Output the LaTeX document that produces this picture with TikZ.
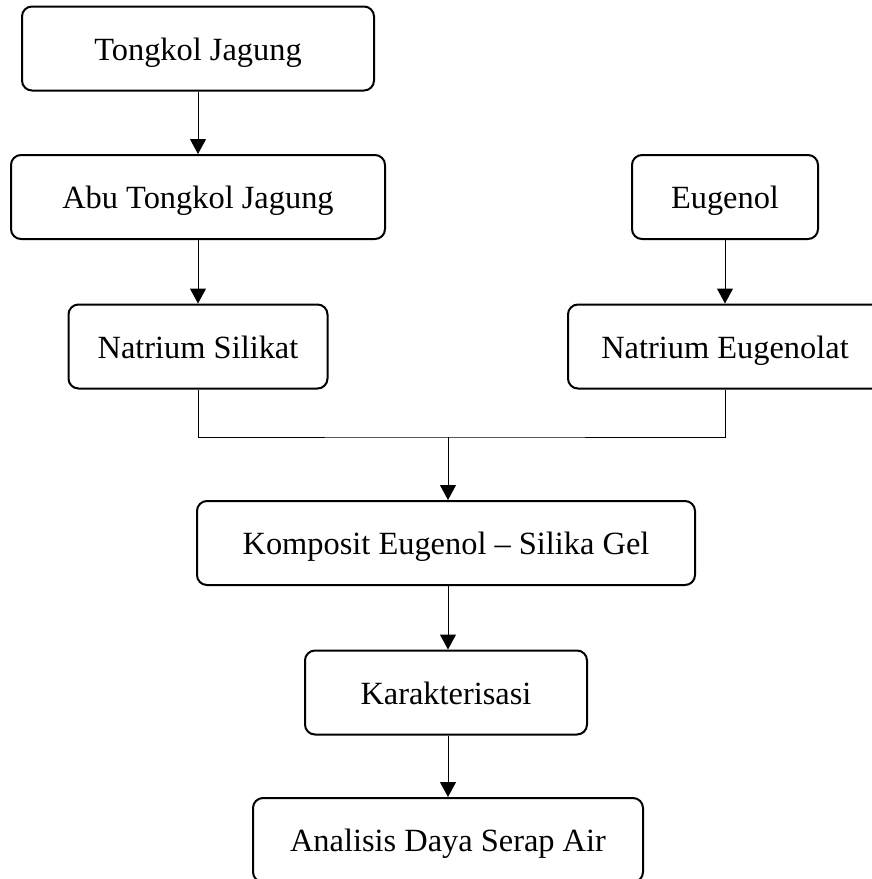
\documentclass[tikz,border=0pt]{standalone}
\usepackage{fontspec}
\setmainfont{Liberation Serif}
\usepackage{tikz}
\usetikzlibrary{arrows.meta}
\tikzstyle{stage}=[draw,rounded corners=5pt,line width=1pt,minimum height=42pt,inner sep=0pt,text height=11.5pt,text depth=0pt,font=\fontsize{16.2}{19}\selectfont]
\tikzstyle{flow}=[line width=0.5pt,-{Triangle[length=7.5pt,width=8pt]}]

\begin{document}
\begin{tikzpicture}[x=0.5pt,y=-0.5pt]
\useasboundingbox (0,0) rectangle (872,879);
\node[stage,minimum width=176pt] at (198, 48.5) (tj) {Tongkol Jagung};
\node[stage,minimum width=187pt] at (198, 197) (atj) {Abu Tongkol Jagung};
\node[stage,minimum width=93pt] at (725, 197) (eu) {Eugenol};
\node[stage,minimum width=129.5pt] at (198, 346.5) (ns) {Natrium Silikat};
\node[stage,minimum width=157pt] at (725, 346.5) (ne) {Natrium Eugenolat};
\node[stage,minimum width=249pt] at (446, 543) (kes) {Komposit Eugenol -- Silika Gel};
\node[stage,minimum width=141pt] at (446, 692.5) (kar) {Karakterisasi};
\node[stage,minimum width=195pt] at (448, 840) (ads) {Analisis Daya Serap Air};
\coordinate (j) at (448, 437);

\draw[flow] (tj) edge (atj);
\draw[flow] (atj) edge (ns);
\draw[flow] (eu) edge (ne);
\draw[line width=0.5pt] (ns.south) |- (j) -| (ne.south);
\draw[flow] (j) -- (kes.north -| j);
\draw[flow] (kes.south -| j) -- (kar.north -| j);
\draw[flow] (kar.south -| j) -- (ads.north);
\end{tikzpicture}
\end{document}
